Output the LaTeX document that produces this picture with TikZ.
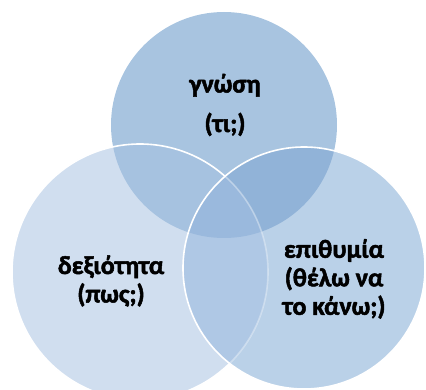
\documentclass[tikz,border=0pt]{standalone}
\usepackage{fontspec}
\setmainfont{Carlito}[BoldFont={Carlito Bold}]
\newcommand\heavyon{\special{pdf:literal direct 2 Tr 0.5 w}}
\newcommand\heavyoff{\special{pdf:literal direct 0 Tr}}
\definecolor{ctop}{HTML}{A8C4E0}
\definecolor{cleft}{HTML}{D0DEEF}
\definecolor{cright}{HTML}{BAD1E8}
\definecolor{ctl}{HTML}{A6C2E0}
\definecolor{ctr}{HTML}{91B3D8}
\definecolor{clr}{HTML}{AFC8E5}
\definecolor{cmid}{HTML}{9AB9DD}
\begin{document}
\begin{tikzpicture}[x=1pt,y=-1pt,
  outline/.style={draw=white,line width=1.6pt},
  lbl/.style={font=\fontsize{26}{28.5}\selectfont\bfseries,align=center,text=black,inner sep=0pt}]
\useasboundingbox (0,0) rectangle (426,390);
\clip (0,0) rectangle (426,390);
\coordinate (tc) at (224,125);
\coordinate (lc) at (140,272);
\coordinate (rc) at (304,268);
\def\Tcirc{(tc) circle[radius=113pt]}
\def\Lcirc{(lc) circle[radius=128pt]}
\def\Rcirc{(rc) circle[radius=121pt]}
\fill[ctop] \Tcirc;
\fill[cleft] \Lcirc;
\begin{scope}\clip \Tcirc; \fill[ctl] \Lcirc;\end{scope}
\draw[outline] \Lcirc;
\fill[cright] \Rcirc;
\begin{scope}\clip \Tcirc; \fill[ctr] \Rcirc;\end{scope}
\begin{scope}\clip \Lcirc; \fill[clr] \Rcirc;\end{scope}
\begin{scope}\clip \Tcirc; \clip \Lcirc; \fill[cmid] \Rcirc;\end{scope}
\begin{scope}\clip \Rcirc; \draw[outline,draw opacity=0.35] \Lcirc;\end{scope}
\draw[outline] \Rcirc;
\node[lbl] (tt) at (225,105) {\heavyon γνώση\\[11pt](τι;)\heavyoff};
\node[lbl] (lt) at (111,281) {\heavyon δεξιότητα\\(πως;)\heavyoff};
\node[lbl] (rt) at (334,279) {\heavyon επιθυμία\\(θέλω να\\το κάνω;)\heavyoff};
\end{tikzpicture}
\end{document}
